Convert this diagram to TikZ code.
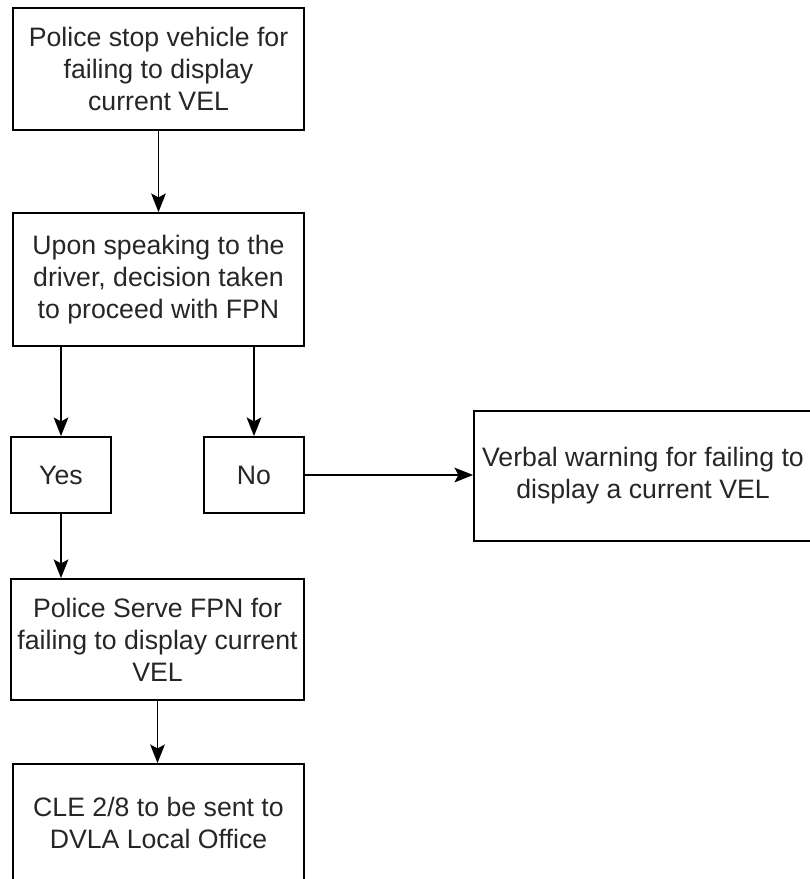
\documentclass[tikz,border=0pt]{standalone}
\usepackage{fontspec}
\setmainfont{Liberation Sans}
\usetikzlibrary{arrows.meta}
\tikzset{
  box/.style={draw=black, line width=1.3pt, rectangle, align=center, inner sep=0pt,
    text=black!85, font=\fontsize{20}{24}\selectfont},
  conn/.style={draw=black, line width=1.3pt, -{Stealth[length=14pt,width=11pt,inset=3pt]}}
}
\begin{document}
\begin{tikzpicture}[x=0.75pt,y=-0.75pt]
\useasboundingbox (0,0) rectangle (810,879);
\node[box, minimum width=291*0.75pt, minimum height=122*0.75pt] (b1) at (158.5,69)
  {Police stop vehicle for\\failing to display\\current VEL};
\node[box, minimum width=291*0.75pt, minimum height=133*0.75pt] (b2) at (158.5,279.5)
  {Upon speaking to the\\driver, decision taken\\to proceed with FPN};
\node[box, minimum width=100*0.75pt, minimum height=76*0.75pt] (yes) at (61,475) {Yes};
\node[box, minimum width=100*0.75pt, minimum height=76*0.75pt] (no) at (254,475) {No};
\node[box, minimum width=338*0.75pt, minimum height=130*0.75pt] (verbal) at (643,476)
  {Verbal warning for failing to\\display a current VEL};
\node[box, minimum width=293*0.75pt, minimum height=121*0.75pt] (b4) at (157.5,639.5)
  {Police Serve FPN for\\failing to display current\\VEL};
\node[box, minimum width=291*0.75pt, minimum height=118*0.75pt] (b5) at (158.5,823)
  {CLE 2/8 to be sent to\\DVLA Local Office};
\draw[conn] (b1.south) -- (b2.north);
\draw[conn] (b2.south -| yes.north) -- (yes.north);
\draw[conn] (b2.south -| no.north) -- (no.north);
\draw[conn] (no.east) -- (verbal.west |- no.east);
\draw[conn] (yes.south) -- (yes.south |- b4.north);
\draw[conn] (b4.south) -- (b4.south |- b5.north);
\end{tikzpicture}
\end{document}
